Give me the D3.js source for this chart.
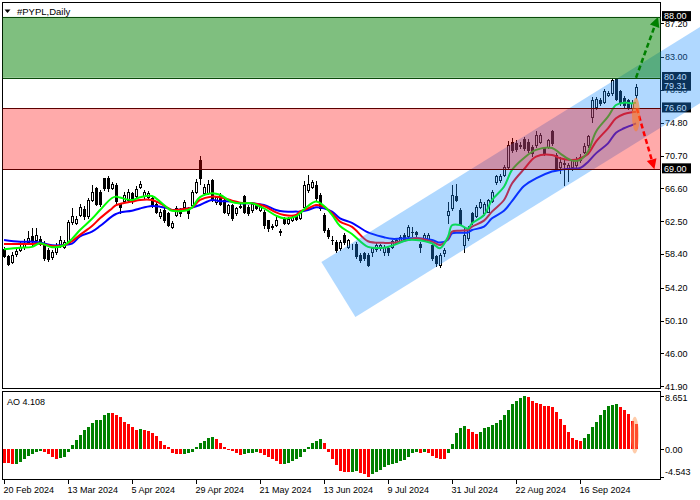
<!DOCTYPE html>
<html><head><meta charset="utf-8">
<script src="https://cdn.jsdelivr.net/npm/d3@7"></script>
<style>
body{margin:0;background:#fff}
svg{display:block}
text{font-family:"Liberation Sans",Arial,sans-serif;fill:#000}
</style>
</head><body>
<svg id="c" width="700" height="500"></svg>
<script>
// ---------- DATA ----------
const dateLabels = ["20 Feb 2024","13 Mar 2024","5 Apr 2024","29 Apr 2024","21 May 2024","13 Jun 2024","9 Jul 2024","31 Jul 2024","22 Aug 2024","16 Sep 2024"];
const dateTickIdx = [0,16,32,48,64,80,96,112,128,144];

const open = [59.0,58.2,57.45,58.4,58.9,59.3,59.9,60.6,60.2,60.3,59.7,58.9,58.0,58.6,59.5,59.3,59.8,62.4,62.3,63.3,64.0,63.1,65.1,66.6,66.2,67.85,67.85,66.6,67.0,64.7,65.0,65.2,66.0,
65.6,66.8,65.6,65.5,65.4,64.7,63.1,63.9,63.5,61.8,63.3,63.9,64.3,64.1,64.5,66.2,70.1,66.0,66.0,67.7,64.9,65.8,65.15,63.5,64.5,63.5,64.4,65.6,64.3,63.9,64.5,63.9,63.7,
62.6,61.9,62.0,61.3,62.8,62.3,62.6,63.2,62.9,64.3,66.4,66.8,67.0,65.8,63.3,61.4,60.2,59.9,59.1,60.8,59.3,59.3,59.7,58.3,58.5,58.3,58.7,59.0,59.1,58.7,59.1,59.3,59.8,59.9,
60.8,60.6,61.2,61.2,59.7,60.2,60.3,59.5,58.1,57.0,58.5,63.3,64.1,65.7,63.9,59.5,60.4,63.5,63.1,64.3,63.5,63.7,65.0,67.4,67.6,68.3,69.3,72.4,72.2,72.0,72.8,72.4,71.8,72.0,
72.4,71.6,71.8,73.7,70.8,69.3,69.6,69.1,69.3,69.5,70.1,71.2,72.0,75.5,76.8,77.6,77.4,78.3,78.5,80.3,78.7,77.9,77.6,76.6,78.3];
const high = [59.3,58.3,58.6,59.2,60.0,60.3,61.3,61.6,61.6,60.6,60.0,59.2,58.9,59.8,60.6,60.2,62.6,64.1,63.1,64.7,64.4,65.4,67.0,66.8,66.4,67.9,68.1,67.4,67.3,64.8,66.2,66.5,66.2,
66.9,67.5,66.4,66.3,65.6,64.9,64.0,64.1,63.7,62.5,64.4,64.1,65.2,64.3,66.4,67.8,70.6,67.2,67.6,67.8,65.7,66.0,65.3,64.6,64.7,64.3,64.6,65.8,64.5,64.9,64.7,64.7,63.9,
62.7,62.1,63.1,61.5,63.0,63.0,63.3,63.4,63.7,67.5,68.3,67.7,67.5,66.0,63.5,61.6,60.6,60.1,60.1,61.0,60.3,59.6,59.9,58.5,58.7,58.5,59.3,59.8,59.7,59.5,59.3,60.2,60.4,60.8,
61.0,62.0,61.8,61.3,59.9,61.0,61.0,59.7,58.3,58.5,59.2,64.9,67.0,67.2,64.2,61.6,61.9,63.7,64.5,65.3,64.9,65.3,66.4,68.3,68.4,69.5,72.5,72.9,72.6,72.4,73.0,72.8,72.0,73.7,
73.5,71.8,72.8,73.9,71.0,70.5,70.1,69.8,70.3,70.5,70.9,72.2,73.3,78.0,78.0,77.9,79.0,78.7,80.3,80.4,78.9,78.1,77.8,77.6,79.6];
const low = [58.0,57.0,57.3,58.2,58.8,59.0,59.7,59.5,60.0,59.5,57.6,57.5,57.8,58.4,59.3,59.1,59.6,62.2,62.1,63.1,62.8,62.9,65.0,64.5,64.4,66.4,66.3,66.5,64.8,63.5,64.9,65.0,64.8,
65.4,66.6,65.4,65.3,64.3,63.5,62.9,62.4,61.9,61.7,63.1,63.2,64.1,62.9,64.3,66.0,67.2,65.8,65.9,65.0,64.7,64.5,63.5,63.3,62.7,63.3,64.1,63.5,63.3,63.7,64.0,63.8,61.7,
61.3,61.5,61.9,60.8,62.1,62.2,62.5,62.6,62.8,64.2,66.2,66.6,65.2,63.9,61.2,60.4,59.6,58.7,58.9,59.7,59.1,59.0,57.9,57.4,57.7,56.9,58.2,58.8,58.9,58.3,58.3,59.1,59.6,59.9,
60.1,60.4,60.6,60.6,58.7,60.0,60.2,57.7,56.9,56.8,58.1,62.3,63.9,65.0,62.0,58.7,60.2,62.2,63.0,64.1,63.3,63.6,64.9,67.2,67.4,68.1,69.1,71.2,71.3,71.6,71.4,71.2,70.6,71.8,
72.2,70.8,71.6,72.0,68.9,68.5,67.0,67.5,68.9,69.3,69.9,71.0,71.8,74.9,76.5,77.0,77.2,78.1,78.3,77.6,77.0,76.8,76.5,76.4,77.9];
const close = [58.2,57.2,58.3,58.8,59.3,59.8,60.4,60.0,60.8,59.7,57.9,57.8,58.7,59.5,60.1,59.9,62.4,63.1,62.8,64.3,63.1,65.1,66.2,64.7,64.7,66.6,66.6,67.2,65.0,64.3,65.8,66.1,65.0,
66.5,67.1,66.1,66.0,64.5,63.7,63.7,62.7,62.0,62.3,64.1,63.5,64.9,63.5,66.2,67.4,67.85,66.8,67.2,65.2,65.5,64.7,63.7,64.5,62.9,64.1,64.3,63.7,63.5,64.7,64.1,64.5,62.0,
61.6,61.8,62.7,61.2,62.3,62.8,63.0,62.8,63.5,67.0,67.2,67.4,65.35,64.1,61.4,60.6,60.1,58.9,59.9,59.9,60.1,59.3,58.1,57.6,57.9,57.0,59.1,59.5,59.5,59.3,58.7,60.0,60.2,60.5,
60.3,61.8,61.1,60.9,59.3,60.8,60.8,57.9,57.3,58.3,58.9,63.8,65.8,65.2,62.2,60.8,61.6,62.4,64.3,64.9,64.7,65.1,66.2,68.1,68.1,69.3,72.0,71.4,71.5,71.9,71.6,71.4,71.0,73.3,
73.3,71.0,72.6,72.2,69.1,69.9,69.8,69.5,70.1,70.1,70.5,71.9,73.1,77.6,77.8,77.2,78.7,78.5,80.1,77.8,77.2,77.0,76.8,77.3,79.31];

const maIdx  = [0,4,7,9,12,15,17,19,22,24,27,28,29,32,34,37,39,41,42,46,47,49,52,54,57,59,62,65,68,70,73,74,76,78,80,82,84,87,91,95,97,101,103,107,109,111,112,114,116,117,120,122,125,127,130,133,137,139,142,144,146,148,151,153,155,157,158];
const maFast = [59.0,59.2,59.3,59.75,59.25,59.5,60.3,61.4,62.8,63.9,65.4,65.57,65.45,65.15,65.5,65.65,64.95,64.1,63.8,63.9,64.2,65.5,66.0,65.8,64.9,64.74,64.74,64.1,63.2,62.86,63.1,63.49,64.4,64.95,64.4,63.3,61.9,60.9,59.3,59.2,59.45,60.16,60.16,59.74,59.12,60.57,62.0,62.03,61.6,62.24,63.28,65.15,66.8,68.9,70.4,71.4,71.65,70.97,70.06,70.14,71.2,73.68,75.55,77.0,77.3,77.2,77.3];
const maMid  = [59.66,59.66,59.66,59.7,59.4,59.5,60.0,60.8,61.9,62.86,64.1,64.5,64.65,64.95,65.15,65.15,64.74,64.15,63.9,64.1,64.2,65.15,65.57,65.5,65.07,64.82,64.74,64.4,63.6,63.28,63.28,63.7,64.1,64.53,64.32,63.49,62.45,61.8,60.0,59.8,59.8,60.16,60.37,59.95,59.53,60.3,61.2,61.32,61.4,61.82,62.57,63.7,65.15,67.2,69.0,70.56,70.77,70.35,70.14,70.35,70.9,72.43,74.1,75.34,75.88,76.1,76.17];
const maSlow = [60.16,59.95,59.95,59.85,59.5,59.54,59.7,60.6,61.2,61.9,63.1,63.4,63.6,63.8,64.1,64.4,64.32,64.1,63.9,64.1,64.2,64.53,65.15,65.0,64.95,64.74,64.74,64.53,63.9,63.7,63.7,63.7,63.9,64.24,64.1,63.7,62.86,62.3,61.1,60.5,60.3,60.37,60.37,60.16,59.83,60.2,60.99,61.07,61.1,61.4,61.82,62.86,63.8,65.0,66.9,67.85,68.7,68.9,69.06,69.14,69.9,70.97,72.22,73.55,74.1,74.5,74.72];

const ao = [-2.3,-2.3,-2.45,-2.35,-2.0,-1.6,-1.1,-0.7,-0.45,-0.3,-0.5,-0.8,-1.2,-1.5,-1.4,-1.2,-0.4,0.7,1.5,2.3,3.2,3.7,4.3,4.7,4.8,5.5,5.9,5.85,5.6,5.2,4.5,4.1,3.6,3.2,3.3,3.2,3.0,2.7,2.1,1.3,0.7,0.35,
-0.55,-0.8,-0.82,-0.75,-0.6,-0.4,0.3,1.0,1.4,1.8,2.0,1.6,1.0,0.45,-0.1,-0.3,-0.65,-0.9,-0.8,-0.65,-0.6,-0.5,-0.65,-0.9,-1.2,-1.6,-1.9,-2.45,-2.4,-2.2,-1.85,-1.65,-1.2,-0.5,0.3,1.0,1.4,1.65,1.0,
-0.4,-1.5,-2.55,-3.5,-3.65,-3.7,-3.65,-3.6,-3.8,-4.05,-4.54,-4.05,-3.65,-3.3,-2.95,-2.55,-2.4,-2.2,-1.9,-1.75,-1.2,-0.55,-0.4,-0.55,-0.5,-0.55,-1.05,-1.4,-1.55,-1.58,-0.65,0.9,2.6,3.45,3.8,3.35,2.85,2.45,2.75,
3.45,3.7,4.0,4.3,4.8,5.5,6.45,7.4,7.85,8.4,8.651,8.45,7.9,7.55,7.4,7.0,6.98,6.9,6.05,4.95,4.0,2.8,1.8,1.55,1.35,1.8,2.5,3.6,4.45,5.5,6.4,7.1,7.25,7.4,6.9,6.45,5.75,4.6,4.108];

const priceTicks = [87.2,83.0,78.9,74.8,70.7,66.6,62.5,58.4,54.2,50.1,46.0,41.9];
const aoTicks = [8.651,0,-4.543];
const greenZone = [88.0,80.4];
const redZone = [76.6,69.0];
const boxedLabels = [88.0,80.4,79.31,76.6,69.0];
const lastAO = 4.108;
const channelUpper = [[79.35,57.41],[174.1,86.78]];
const channelLower = [[87.85,50.55],[174.1,77.25]];
const arrowUp = [[158.0,80.4],[163.5,88.0]];
const arrowDown = [[158.2,76.6],[162.6,69.0]];
const markMain = [158,75.8,2.1];   // bar, centre price, half-height
const markAO = [157.7,2.3,3.0];

// ---------- LAYOUT ----------
const svg = d3.select("#c");
const x = d3.scaleLinear().domain([0,158]).range([4,636]);
const y = d3.scaleLinear().domain([41.9,87.2]).range([386.3,23.3]);
const ya = d3.scaleLinear().domain([-4.543,8.651]).range([477.3,396.0]);
const P = {l:2.5, r:660.5, t:2.5, b:388.5, at:391.5, ab:479.5};

svg.append("rect").attr("width",700).attr("height",500).attr("fill","#fff");

// main panel candles
const g = svg.append("g").attr("shape-rendering","crispEdges");
const n = close.length;
for (let i=0;i<n;i++){
  const cx = Math.round(x(i))+0.5;
  const up = close[i] >= open[i];
  g.append("line").attr("x1",cx).attr("x2",cx)
    .attr("y1",Math.round(y(high[i]))).attr("y2",Math.round(y(low[i]))+1)
    .attr("stroke","#000").attr("stroke-width",1);
  const t = Math.round(y(Math.max(open[i],close[i])));
  const b = Math.round(y(Math.min(open[i],close[i])));
  if (up){
    g.append("rect").attr("x",cx-1).attr("y",t+0.5).attr("width",2).attr("height",Math.max(0,b-t))
      .attr("fill","#fff").attr("stroke","#000").attr("stroke-width",1);
  } else {
    g.append("rect").attr("x",cx-1.5).attr("y",t).attr("width",3).attr("height",Math.max(1,b-t+1))
      .attr("fill","#000");
  }
}

// moving averages
const line = d3.line().x(d=>x(d[0])).y(d=>y(d[1])).curve(d3.curveCatmullRom.alpha(0.5));
[[maSlow,"#0000ff"],[maMid,"#ff0000"],[maFast,"#00ff00"]].forEach(([arr,col])=>{
  svg.append("path").attr("d",line(maIdx.map((k,j)=>[k,arr[j]])))
    .attr("fill","none").attr("stroke",col).attr("stroke-width",2);
});

// panel borders
svg.append("rect").attr("x",P.l).attr("y",P.t).attr("width",P.r-P.l).attr("height",P.b-P.t)
  .attr("fill","none").attr("stroke","#000").attr("shape-rendering","crispEdges");
svg.append("rect").attr("x",P.l).attr("y",P.at).attr("width",P.r-P.l).attr("height",P.ab-P.at)
  .attr("fill","none").attr("stroke","#000").attr("shape-rendering","crispEdges");

// price axis
const fmt = d3.format(".2f");
priceTicks.forEach(v=>{
  const yy = Math.round(y(v))+0.5;
  svg.append("line").attr("x1",660).attr("x2",664).attr("y1",yy).attr("y2",yy).attr("stroke","#000").attr("shape-rendering","crispEdges");
  svg.append("text").attr("x",665).attr("y",y(v)+3.3).attr("font-size",9).text(fmt(v));
});
boxedLabels.forEach(v=>{
  const yy = y(v)-0.8;
  svg.append("rect").attr("x",662).attr("y",yy-5).attr("width",29).attr("height",10).attr("fill","#000");
  svg.append("text").attr("x",664).attr("y",yy+3.3).attr("font-size",9).style("fill","#fff").text(fmt(v));
});

// channel overlay
const chan = [channelUpper[0],channelUpper[1],channelLower[1],channelLower[0]];
svg.append("path").attr("d","M"+chan.map(p=>[x(p[0]),y(p[1])].join(",")).join("L")+"Z")
  .attr("fill","rgb(30,144,255)").attr("fill-opacity",0.35);

// zones
svg.append("rect").attr("x",P.l).attr("width",P.r-P.l).attr("y",y(greenZone[0])).attr("height",y(greenZone[1])-y(greenZone[0]))
  .attr("fill","rgb(0,128,0)").attr("fill-opacity",0.5);
svg.append("rect").attr("x",P.l).attr("width",P.r-P.l).attr("y",y(redZone[0])).attr("height",y(redZone[1])-y(redZone[0]))
  .attr("fill","rgb(255,0,0)").attr("fill-opacity",0.333);
[[greenZone,"#0a4a0a"],[redZone,"#5c0000"]].forEach(([z,c])=>z.forEach(v=>{
  const yy = Math.round(y(v))+0.5;
  svg.append("line").attr("x1",P.l).attr("x2",P.r).attr("y1",yy).attr("y2",yy)
    .attr("stroke",c).attr("stroke-width",1).attr("shape-rendering","crispEdges");
}));

// arrows
function arrow(a,col){
  const x0=x(a[0][0]), y0=y(a[0][1]), x1=x(a[1][0]), y1=y(a[1][1]);
  const ang=Math.atan2(y1-y0,x1-x0), L=10, W=5;
  const bx=x1-L*Math.cos(ang), by=y1-L*Math.sin(ang);
  svg.append("line").attr("x1",x0).attr("y1",y0).attr("x2",bx).attr("y2",by)
    .attr("stroke",col).attr("stroke-width",2.5).attr("stroke-dasharray","5,3");
  const px=-Math.sin(ang), py=Math.cos(ang);
  svg.append("path").attr("d",`M${x1},${y1}L${bx+px*W},${by+py*W}L${bx-px*W},${by-py*W}Z`).attr("fill",col);
}
arrow(arrowUp,"#008000");
arrow(arrowDown,"#ff0000");

svg.append("ellipse").attr("cx",x(markMain[0])).attr("cy",y(markMain[1]))
  .attr("rx",4).attr("ry",Math.abs(y(markMain[1]+markMain[2])-y(markMain[1])))
  .attr("fill","#ff7f27").attr("fill-opacity",0.6);

// AO panel
const ga = svg.append("g").attr("shape-rendering","crispEdges");
ao.forEach((v,i)=>{
  const col = (i>0 && v>ao[i-1]) ? "#008000" : "#ff0000";
  const y0 = ya(Math.max(v,0)), y1 = ya(Math.min(v,0));
  ga.append("rect").attr("x",Math.round(x(i))-1).attr("width",3)
    .attr("y",Math.round(y0)).attr("height",Math.max(1,Math.round(y1)-Math.round(y0)))
    .attr("fill",col);
});
svg.append("ellipse").attr("cx",x(markAO[0])).attr("cy",ya(markAO[1]))
  .attr("rx",4).attr("ry",Math.abs(ya(markAO[1]+markAO[2])-ya(markAO[1])))
  .attr("fill","#ff9a55").attr("fill-opacity",0.5);

aoTicks.forEach(v=>{
  const yy = Math.round(ya(v))+0.5;
  svg.append("line").attr("x1",660).attr("x2",664).attr("y1",yy).attr("y2",yy).attr("stroke","#000").attr("shape-rendering","crispEdges");
  const ty = Math.min(Math.max(ya(v),398),472);
  svg.append("text").attr("x",665).attr("y",ty+3.3).attr("font-size",9).text(v===0?"0.00":String(v));
});
svg.append("text").attr("x",7).attr("y",404.5).attr("font-size",9).text("AO "+lastAO);

// date axis
dateTickIdx.forEach((k,j)=>{
  const xx = Math.round(x(k))+0.5;
  svg.append("line").attr("x1",xx).attr("x2",xx).attr("y1",479).attr("y2",484).attr("stroke","#000").attr("shape-rendering","crispEdges");
  svg.append("text").attr("x",x(k)-0.5).attr("y",493).attr("font-size",9).text(dateLabels[j]);
});

// title
svg.append("path").attr("d","M4.5,9.5L10.5,9.5L7.5,13Z").attr("fill","#000");
svg.append("text").attr("x",17).attr("y",14.5).attr("font-size",9.5).text("#PYPL,Daily");
</script>
</body></html>
